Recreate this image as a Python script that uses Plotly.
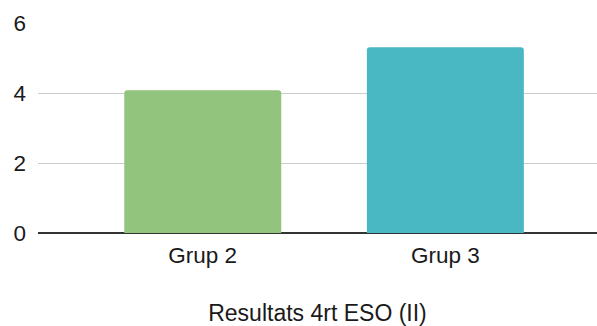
import plotly.graph_objects as go

categories = ["Grup 2", "Grup 3"]
values = [4.08, 5.31]
colors = ["#93c47d", "#4ab8c3"]
y_ticks = [0, 2, 4, 6]
x_title = "Resultats 4rt ESO (II)"

fig = go.Figure(go.Bar(
    x=categories, y=values,
    marker=dict(color=colors, line=dict(width=0), cornerradius=3),
    width=0.647,
))

font = "Liberation Sans, Arial, sans-serif"
fig.update_layout(
    width=597, height=326,
    margin=dict(l=38, r=0, t=23, b=93),
    plot_bgcolor="white", paper_bgcolor="white",
    showlegend=False,
    font=dict(family=font, size=22.5, color="#1a1a1a"),
    xaxis=dict(
        type="category",
        range=[-0.679, 1.625],
        showgrid=False, ticks="",
        ticklabelstandoff=6,
        showline=False,
        title=dict(text=x_title, standoff=38, font=dict(size=23, color="#1a1a1a")),
    ),
    yaxis=dict(
        range=[0, 6], tickvals=y_ticks,
        showgrid=True, gridcolor="#cccccc", gridwidth=1,
        zeroline=True, zerolinecolor="#333333", zerolinewidth=2,
        ticks="", ticklabelstandoff=11,
        showline=False,
    ),
)

fig.write_html("out.html")
